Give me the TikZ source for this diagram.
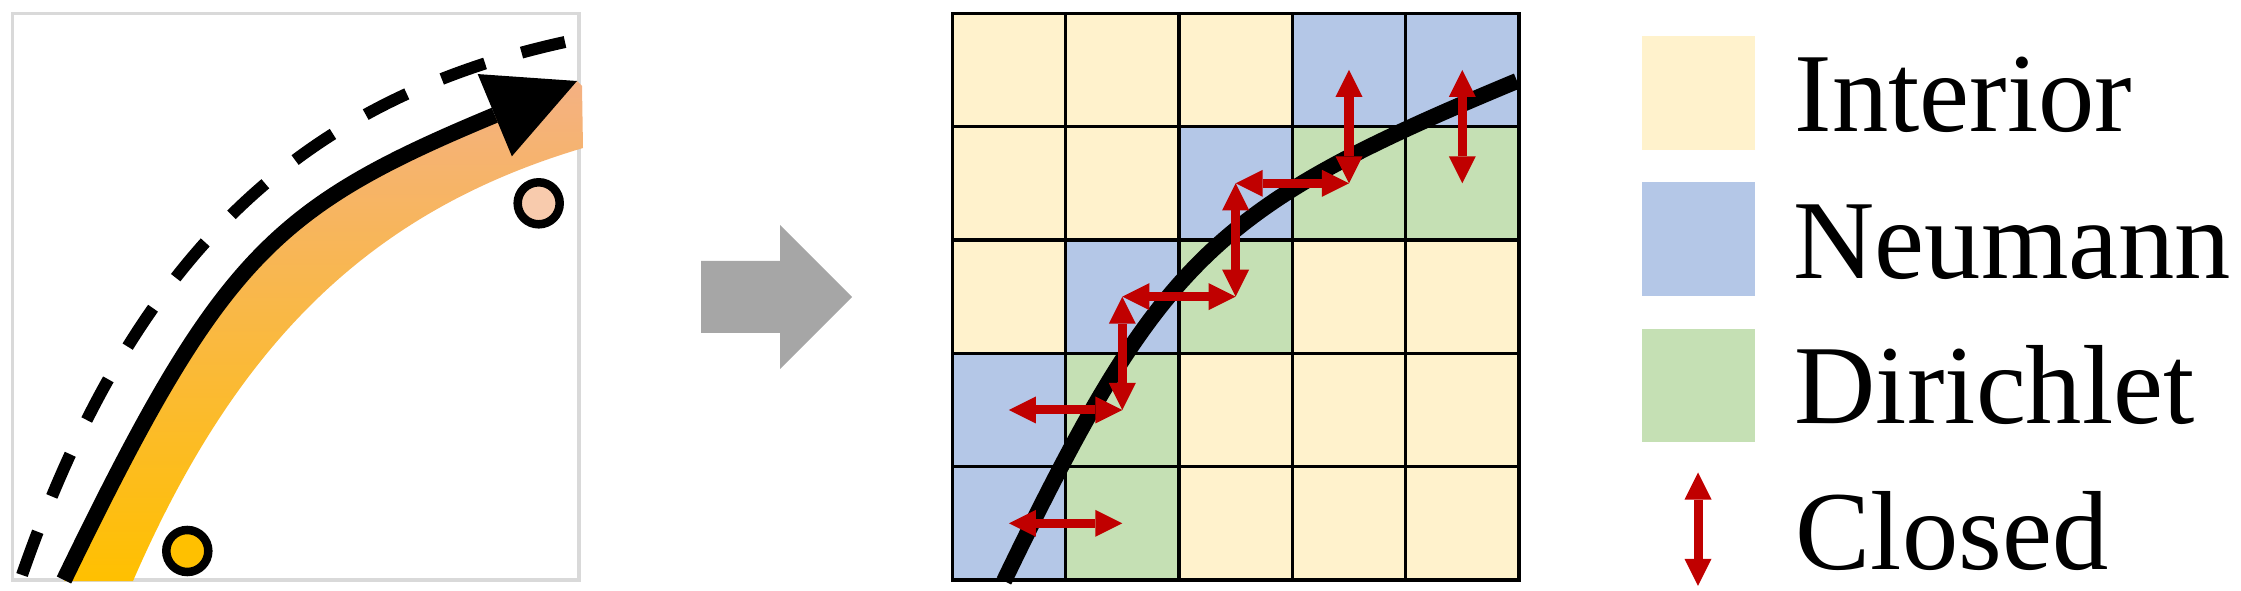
\documentclass[tikz,border=0pt]{standalone}
\usepackage{fontspec}
\setmainfont{Liberation Serif}
\usetikzlibrary{arrows.meta}
\definecolor{interiorcol}{HTML}{FFF2CC}
\definecolor{neumanncol}{HTML}{B4C7E7}
\definecolor{dirichletcol}{HTML}{C5E0B4}
\definecolor{closedred}{HTML}{C00000}
\definecolor{framegray}{HTML}{D9D9D9}
\definecolor{flowgray}{HTML}{A6A6A6}
\definecolor{bandgold}{HTML}{FFC000}
\definecolor{bandsalmon}{HTML}{F4B183}
\definecolor{dotpeach}{HTML}{F8CBAD}
\begin{document}
\begin{tikzpicture}[x=0.01cm, y=-0.01cm,
  gridline/.style={line width=0.035cm, line cap=rect, draw=black},
  closedarrow/.style={draw=closedred, line width=0.09cm,
    arrows={Triangle[length=0.27cm,width=0.27cm,line width=0pt]-Triangle[length=0.27cm,width=0.27cm,line width=0pt]}},
  pathcurve/.style={line width=0.16cm, draw=black},
  legendtext/.style={anchor=base west, inner sep=0pt, font=\fontsize{32}{38}\selectfont},
  legendbox/.style={minimum width=1.133cm, minimum height=1.133cm, inner sep=0pt, draw=none, anchor=north west},
  ringdot/.style={line width=0.085cm, draw=black}
]
\useasboundingbox (0,0) rectangle (2241,591);

% ---------- left panel ----------
\draw[framegray, line width=0.033cm] (12.5,13.3) rectangle (579,580);
\shade[bottom color=bandgold, top color=bandsalmon]
  (64,581) .. controls (220,258) and (271.5,208) .. (577,81)
  -- (582,86) -- (583,148)
  .. controls (372.6,210.5) and (237.7,340.1) .. (133,581) -- cycle;
\draw[line width=0.12cm, dash pattern=on 0.46cm off 0.38cm]
  (22,575) .. controls (131,262) and (295,101) .. (565,42);
\coordinate (lstart) at (64,580);
\coordinate (ltip) at (577,81);
\draw[pathcurve, -{Triangle[length=0.89cm, width=0.89cm, line width=0pt]}]
  (lstart) .. controls (220,258) and (271.5,208) .. (ltip);
\filldraw[ringdot, fill=bandgold] (187.3,551) circle[radius=0.21cm];
\filldraw[ringdot, fill=dotpeach] (538.7,203.3) circle[radius=0.21cm];

% ---------- flow arrow ----------
\fill[flowgray] (701,261) -- (780,261) -- (780,225) -- (852,297)
  -- (780,369) -- (780,333) -- (701,333) -- cycle;

% ---------- grid ----------
\foreach \i/\j in {0/0,1/0,2/0,0/1,1/1,0/2,3/2,4/2,2/3,3/3,4/3,2/4,3/4,4/4}
  \fill[interiorcol] ({952.3+\i*113.34},{13.3+\j*113.34}) rectangle ++(113.34,113.34);
\foreach \i/\j in {3/0,4/0,2/1,1/2,0/3,0/4}
  \fill[neumanncol] ({952.3+\i*113.34},{13.3+\j*113.34}) rectangle ++(113.34,113.34);
\foreach \i/\j in {3/1,4/1,2/2,1/3,1/4}
  \fill[dirichletcol] ({952.3+\i*113.34},{13.3+\j*113.34}) rectangle ++(113.34,113.34);
\foreach \k in {0,...,5} {
  \draw[gridline] ({952.3+\k*113.34},13.3) -- ({952.3+\k*113.34},580);
  \draw[gridline] (952.3,{13.3+\k*113.34}) -- (1519,{13.3+\k*113.34});
}
\foreach \i in {0,...,4}
  \foreach \j in {0,...,4}
    \coordinate (c\i\j) at ({952.3+(\i+0.5)*113.34},{13.3+(\j+0.5)*113.34});
\coordinate (gstart) at (1004,581);
\coordinate (gend) at (1517,81);
\draw[pathcurve] (gstart) .. controls (1160,258) and (1211.5,208) .. (gend);
\draw[closedarrow] (c04) -- (c14);
\draw[closedarrow] (c03) -- (c13);
\draw[closedarrow] (c13) -- (c12);
\draw[closedarrow] (c12) -- (c22);
\draw[closedarrow] (c22) -- (c21);
\draw[closedarrow] (c21) -- (c31);
\draw[closedarrow] (c31) -- (c30);
\draw[closedarrow] (c41) -- (c40);

% ---------- legend ----------
\node[legendbox, fill=interiorcol] (boxint) at (1641,35.5) {};
\node[legendbox, fill=neumanncol] (boxneu) at (1641,181.5) {};
\node[legendbox, fill=dirichletcol] (boxdir) at (1641,328) {};
\coordinate (legtop) at (1698,472.5);
\coordinate (legbot) at (1698,585.8);
\draw[closedarrow] (legtop) -- (legbot);
\node[legendtext] (txtint) at (1794,132) {Interior};
\node[legendtext] (txtneu) at (1793,278) {Neumann};
\node[legendtext] (txtdir) at (1794,424) {Dirichlet};
\node[legendtext] (txtclo) at (1795,570) {Closed};
\end{tikzpicture}
\end{document}
